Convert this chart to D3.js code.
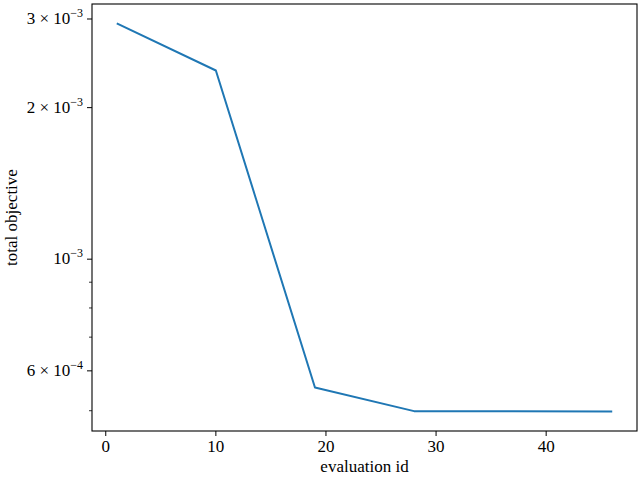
<!DOCTYPE html>
<html>
<head>
<meta charset="utf-8">
<script src="https://cdn.jsdelivr.net/npm/d3@7"></script>
<style>
  body { margin: 0; background: #fff; }
</style>
</head>
<body>
<svg id="chart" width="640" height="480"></svg>
<script>
// data
const evalIds = [1, 10, 19, 28, 37, 46];
const objective = [2.94e-3, 2.37e-3, 5.56e-4, 4.99e-4, 4.985e-4, 4.98e-4];
const xTicks = [0, 10, 20, 30, 40];
const yMajor = [
  {v: 3e-3, m: "3", e: "\u22123"},
  {v: 2e-3, m: "2", e: "\u22123"},
  {v: 1e-3, m: null, e: "\u22123"},
  {v: 6e-4, m: "6", e: "\u22124"}
];
const yMinor = [5e-4, 7e-4, 8e-4, 9e-4];

const font = "'Liberation Serif', 'DejaVu Serif', serif";
const svg = d3.select("#chart").attr("font-family", font);
const plotLeft = 92, plotRight = 637, plotTop = 4, plotBottom = 431;

// 5% margins like matplotlib
const xPad = (d3.max(evalIds) - d3.min(evalIds)) * 0.05;
const x = d3.scaleLinear()
  .domain([d3.min(evalIds) - xPad, d3.max(evalIds) + xPad])
  .range([plotLeft, plotRight]);

const lmin = Math.log10(d3.min(objective)), lmax = Math.log10(d3.max(objective));
const lPad = (lmax - lmin) * 0.05;
const y = d3.scaleLog()
  .domain([Math.pow(10, lmin - lPad), Math.pow(10, lmax + lPad)])
  .range([plotBottom, plotTop]);

const line = d3.line()
  .x((d, i) => x(evalIds[i]))
  .y(d => y(d));

svg.append("path")
  .datum(objective)
  .attr("d", line)
  .attr("fill", "none")
  .attr("stroke", "#1f77b4")
  .attr("stroke-width", 2)
  .attr("stroke-linejoin", "round");

// frame
svg.append("rect")
  .attr("x", plotLeft).attr("y", plotTop)
  .attr("width", plotRight - plotLeft).attr("height", plotBottom - plotTop)
  .attr("fill", "none").attr("stroke", "#000").attr("stroke-width", 1.1);

// x ticks
const xg = svg.append("g");
xTicks.forEach(t => {
  xg.append("line")
    .attr("x1", x(t)).attr("x2", x(t))
    .attr("y1", plotBottom).attr("y2", plotBottom + 5)
    .attr("stroke", "#000").attr("stroke-width", 1);
  xg.append("text")
    .attr("x", x(t)).attr("y", plotBottom + 21)
    .attr("text-anchor", "middle")
    .attr("font-size", 17)
    .text(t);
});

// y ticks
const yg = svg.append("g");
yMinor.forEach(v => {
  yg.append("line")
    .attr("x1", plotLeft - 3).attr("x2", plotLeft)
    .attr("y1", y(v)).attr("y2", y(v))
    .attr("stroke", "#000").attr("stroke-width", 0.8);
});
yMajor.forEach(t => {
  yg.append("line")
    .attr("x1", plotLeft - 5).attr("x2", plotLeft)
    .attr("y1", y(t.v)).attr("y2", y(t.v))
    .attr("stroke", "#000").attr("stroke-width", 1);
  const txt = yg.append("text")
    .attr("x", plotLeft - 9).attr("y", y(t.v) + 5)
    .attr("text-anchor", "end")
    .attr("font-size", 17);
  txt.append("tspan").text((t.m ? t.m + " \u00d7 " : "") + "10");
  txt.append("tspan")
    .attr("dy", -7)
    .attr("font-size", 12)
    .text(t.e);
});

// axis labels
svg.append("text")
  .attr("x", (plotLeft + plotRight) / 2).attr("y", 472)
  .attr("text-anchor", "middle")
  .attr("font-size", 17)
  .text("evaluation id");

svg.append("text")
  .attr("transform", `translate(17,${(plotTop + plotBottom) / 2}) rotate(-90)`)
  .attr("text-anchor", "middle")
  .attr("font-size", 17)
  .text("total objective");
</script>
</body>
</html>
